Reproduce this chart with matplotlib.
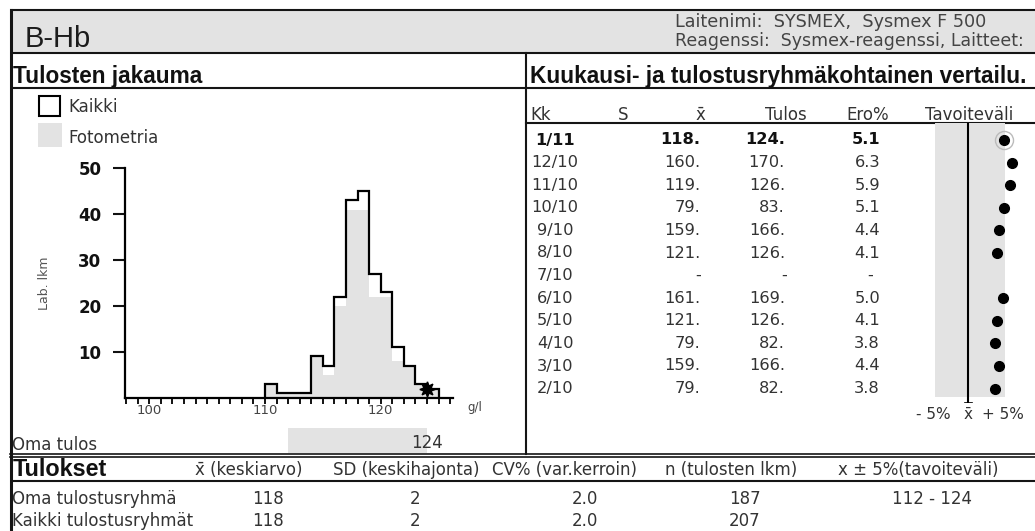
import numpy as np
import matplotlib
matplotlib.use('Agg')
import matplotlib.pyplot as plt
from matplotlib.patches import Rectangle

# ---------------- data ----------------
bin_edges = np.arange(110, 126)          # 1 g/l bins 110..125
kaikki_counts = [3, 1, 1, 1, 9, 7, 22, 43, 45, 27, 23, 11, 7, 3, 2]
fotometria_counts = [3, 1, 1, 1, 9, 5, 20, 41, 41, 22, 22, 8, 7, 3, 2]
own_result = 124
target_low, target_high = 112, 124
hist_xtick_labels = [100, 110, 120]
hist_yticks = [10, 20, 30, 40, 50]

months = ['1/11', '12/10', '11/10', '10/10', '9/10', '8/10', '7/10',
          '6/10', '5/10', '4/10', '3/10', '2/10']
month_mean = [118, 160, 119, 79, 159, 121, None, 161, 121, 79, 159, 79]
month_result = [124, 170, 126, 83, 166, 126, None, 169, 126, 82, 166, 82]
month_diff = [5.1, 6.3, 5.9, 5.1, 4.4, 4.1, None, 5.0, 4.1, 3.8, 4.4, 3.8]
tolerance_pct = 5

summary_groups = ['Oma tulostusryhmä', 'Kaikki tulostusryhmät']
summary_mean = [118, 118]
summary_sd = [2, 2]
summary_cv = [2.0, 2.0]
summary_n = [187, 207]
summary_range = ['112 - 124', '']

# ---------------- figure ----------------
plt.rcParams['font.family'] = ['DejaVu Sans']
W, H = 1035, 531
fig = plt.figure(figsize=(W / 100, H / 100), dpi=100)
bg = fig.add_axes([0, 0, 1, 1])
bg.set_xlim(0, W)
bg.set_ylim(H, 0)
bg.axis('off')


def ax_px(l, t, r, b):
    return fig.add_axes([l / W, 1 - b / H, (r - l) / W, (b - t) / H])


GREY = '#e3e3e3'
TXT = '#333333'
LINE = '#151515'
LW = 1.5
FS = 12          # grey label text
FB = 11.7        # table body
TITLE_FONT = ['Liberation Sans', 'DejaVu Sans']

# header band and frame lines
bg.add_patch(Rectangle((10, 10), W - 10, 43, fc=GREY, ec='none'))
for y in [10, 53, 87.5, 481]:
    bg.plot([10, W], [y, y], color=LINE, lw=LW, solid_capstyle='butt')
bg.plot([10, W], [453.5, 453.5], color=LINE, lw=1.2)
bg.plot([10, W], [457, 457], color=LINE, lw=1.2)
bg.plot([526, W], [123, 123], color=LINE, lw=LW)
bg.plot([10.5, 10.5], [10, H], color=LINE, lw=2.2)
bg.plot([526, 526], [53, 453.5], color=LINE, lw=LW)

# header texts
bg.text(25, 39, 'B-Hb', fontsize=21, color='#1c1c1c', va='center', ha='left',
        family=TITLE_FONT)
bg.text(675, 22, 'Laitenimi:  SYSMEX,  Sysmex F 500', fontsize=12.7, color='#444444',
        va='center', ha='left')
bg.text(675, 41, 'Reagenssi:  Sysmex-reagenssi, Laitteet:', fontsize=12.5, color='#444444',
        va='center', ha='left')
bg.text(13, 76, 'Tulosten jakauma', fontsize=16.3, fontweight='bold', color='#111111',
        va='center', ha='left', family=TITLE_FONT)
bg.text(530, 76, 'Kuukausi- ja tulostusryhmäkohtainen vertailu.', fontsize=16.3,
        fontweight='bold', color='#111111', va='center', ha='left', family=TITLE_FONT)

# legend of histogram
bg.add_patch(Rectangle((39, 96), 21, 20, fc='white', ec='black', lw=1.5))
bg.text(68, 107, 'Kaikki', fontsize=FS, color=TXT, va='center', ha='left')
bg.add_patch(Rectangle((38, 123), 24, 24, fc=GREY, ec='none'))
bg.text(68, 138, 'Fotometria', fontsize=FS, color=TXT, va='center', ha='left')

# ---------------- histogram ----------------
hx = ax_px(125, 168.3, 453, 397.7)
hx.set_xlim(97.9, 126.25)
hx.set_ylim(0, 50)
hx.stairs(fotometria_counts, bin_edges, fill=True, color=GREY, lw=0)
hx.stairs(kaikki_counts, bin_edges, baseline=0, color='black', lw=1.6)
hx.plot(own_result, 1.9, marker=(8, 1, 0), ms=11, color='black', clip_on=False)
for s in ['top', 'right']:
    hx.spines[s].set_visible(False)
for s in ['left', 'bottom']:
    hx.spines[s].set_linewidth(1.6)
hx.set_yticks(hist_yticks)
hx.set_yticklabels([str(v) for v in hist_yticks], fontweight='bold', fontsize=12)
hx.tick_params(axis='y', length=9, width=1.5, pad=8, colors='#111111')
xt = list(range(98, 127))
hx.set_xticks(xt)
hx.set_xticklabels([str(t) if t in hist_xtick_labels else '' for t in xt])
hx.tick_params(axis='x', length=4, width=1.3, pad=0.5, labelsize=9.5, labelcolor='#444444')
hx.patch.set_alpha(0)
bg.text(45, 283, 'Lab. lkm', rotation=90, fontsize=9, color='#555555', va='center', ha='center')
bg.text(467, 407, 'g/l', fontsize=8.5, color='#444444', va='center', ha='left')

# own result bar
ox = ax_px(125, 428, 453, 453)
ox.set_xlim(97.9, 126.25)
ox.set_ylim(0, 1)
ox.axis('off')
ox.axvspan(target_low, target_high, color=GREY, lw=0)
ox.text(own_result, 0.4, str(own_result), ha='center', va='center', fontsize=FS, color=TXT)
bg.text(12, 445, 'Oma tulos', fontsize=FS, color=TXT, va='center', ha='left')

# ---------------- monthly table ----------------
hy = 115
bg.text(530, hy, 'Kk', fontsize=FS, color=TXT, va='center', ha='left')
bg.text(623, hy, 'S', fontsize=FS, color=TXT, va='center', ha='center')
bg.text(700, hy, 'x\u0304', fontsize=FS, color=TXT, va='center', ha='center')
bg.text(786, hy, 'Tulos', fontsize=FS, color=TXT, va='center', ha='center')
bg.text(868, hy, 'Ero%', fontsize=FS, color=TXT, va='center', ha='center')
bg.text(925, hy, 'Tavoiteväli', fontsize=FS, color=TXT, va='center', ha='left')

row_y0, row_dy = 140, 22.6
for i, m in enumerate(months):
    y = row_y0 + row_dy * i
    kw = dict(fontsize=FB, va='center',
              color='#111111' if i == 0 else TXT,
              fontweight='bold' if i == 0 else 'normal')
    bg.text(555, y, m, ha='center', **kw)
    if month_mean[i] is None:
        bg.text(701, y, '-', ha='right', **kw)
        bg.text(787, y, '-', ha='right', **kw)
        bg.text(870, y, '-', ha='center', **kw)
    else:
        bg.text(700, y, f'{month_mean[i]}.', ha='right', **kw)
        bg.text(785, y, f'{month_result[i]}.', ha='right', **kw)
        bg.text(880, y, f'{month_diff[i]:.1f}', ha='right', **kw)

# tolerance dot plot
px_per = 7.0
x0 = 968.3
dx = ax_px(925, 123, 1030, 403)
dx.set_xlim((925 - x0) / px_per, (1030 - x0) / px_per)
ytop = (123 - row_y0) / row_dy
ybot = (403 - row_y0) / row_dy
dx.set_ylim(ybot, ytop)
band_bottom = (396.7 - row_y0) / row_dy
dx.fill_between([-tolerance_pct + 0.3, tolerance_pct + 0.3], band_bottom, ytop,
                color=GREY, lw=0)
dx.plot([0, 0], [ytop, ybot], color='black', lw=1.5)
dx.plot([-0.5, 0.5], [ybot - 0.02, ybot - 0.02], color='black', lw=1.2)
rows = np.arange(len(months))
diff = np.array([np.nan if d is None else d for d in month_diff])
ok = ~np.isnan(diff)
dx.plot(diff[ok], rows[ok], 'o', color='black', ms=7, clip_on=False)
dx.plot(diff[0], rows[0], 'o', mfc='none', mec='#bbbbbb', ms=13, mew=1, clip_on=False)
for s in dx.spines.values():
    s.set_visible(False)
dx.set_yticks([])
dx.set_xticks([-tolerance_pct, 0, tolerance_pct])
dx.set_xticklabels([f'- {tolerance_pct}%', 'x\u0304', f'+ {tolerance_pct}%'])
dx.tick_params(axis='x', length=0, pad=3, labelsize=11, labelcolor=TXT)
dx.patch.set_alpha(0)

# ---------------- summary table ----------------
bg.text(13, 469, 'Tulokset', fontsize=16.8, fontweight='bold', color='#111111',
        va='center', ha='left', family=TITLE_FONT)
sh = 470
bg.text(195, sh, 'x\u0304 (keskiarvo)', fontsize=FS, color=TXT, va='center', ha='left')
bg.text(333, sh, 'SD (keskihajonta)', fontsize=FS, color=TXT, va='center', ha='left')
bg.text(492, sh, 'CV% (var.kerroin)', fontsize=FS, color=TXT, va='center', ha='left')
bg.text(665, sh, 'n (tulosten lkm)', fontsize=FS, color=TXT, va='center', ha='left')
bg.text(838, sh, 'x ± 5%(tavoiteväli)', fontsize=FS, color=TXT, va='center', ha='left')

for i, g in enumerate(summary_groups):
    y = 499 + 22 * i
    bg.text(12, y, g, fontsize=FS, color=TXT, va='center', ha='left')
    bg.text(268, y, str(summary_mean[i]), fontsize=FS, color=TXT, va='center', ha='center')
    bg.text(415, y, str(summary_sd[i]), fontsize=FS, color=TXT, va='center', ha='center')
    bg.text(585, y, f'{summary_cv[i]:.1f}', fontsize=FS, color=TXT, va='center', ha='center')
    bg.text(745, y, str(summary_n[i]), fontsize=FS, color=TXT, va='center', ha='center')
    if summary_range[i]:
        bg.text(932, y, summary_range[i], fontsize=FS, color=TXT, va='center', ha='center')

fig.savefig('out.png', dpi=100)
